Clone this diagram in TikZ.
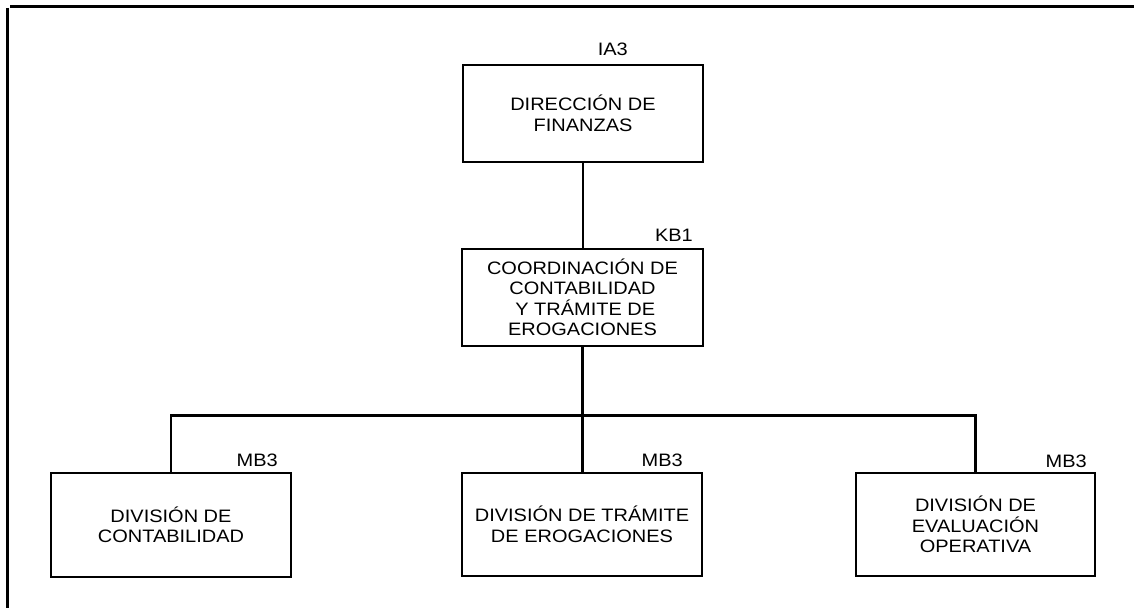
\documentclass[tikz,border=0pt]{standalone}
\usepackage{fontspec}
\setmainfont{Liberation Sans}[FakeStretch=1.11]
\begin{document}
\begin{tikzpicture}[x=1bp,y=-1bp,
  unit/.style={draw=black,line width=2.4bp,align=center,inner sep=0pt,
    font=\fontsize{18bp}{20.5bp}\selectfont},
  code/.style={inner sep=0pt,anchor=base east,font=\fontsize{18bp}{20.5bp}\selectfont},
  link/.style={line width=2.2bp},
  frame/.style={line width=3.2bp}]
\useasboundingbox (0,0) rectangle (1134,608);
% frame
\coordinate (ftl) at (10,6.3);
\coordinate (ftr) at (1134,6.3);
\coordinate (flt) at (7.3,8);
\coordinate (flb) at (7.3,608);
\draw[frame] (ftl) -- (ftr);
\draw[frame] (flt) -- (flb);
% boxes
\node[unit,minimum width=240bp,minimum height=97bp] (A) at (583,113.5) {DIRECCIÓN DE\\FINANZAS};
\node[unit,minimum width=241bp,minimum height=97bp] (B) at (582.5,297.5)
  {COORDINACIÓN DE\hspace{5.5bp}\\CONTABILIDAD\\\hspace{5.5bp}Y TRÁMITE DE\\EROGACIONES};
\node[unit,minimum width=240bp,minimum height=104bp] (C1) at (171,525) {DIVISIÓN DE\\CONTABILIDAD};
\node[unit,minimum width=240bp,minimum height=103bp] (C2) at (582,524.5) {DIVISIÓN DE TRÁMITE\\DE EROGACIONES};
\node[unit,minimum width=239bp,minimum height=103bp] (C3) at (975.5,524.5) {DIVISIÓN DE\\EVALUACIÓN\\OPERATIVA};
% codes
\node[code] (lA) at (628,56) {IA3};
\node[code] (lB) at (693,242) {KB1};
\node[code] (l1) at (278,466) {MB3};
\node[code] (l2) at (683,466) {MB3};
\node[code] (l3) at (1087,467) {MB3};
% connectors
\coordinate (bus) at (582,415.5);
\draw[link] (A.south) -- (A.south |- B.north);
\draw[link] (B.south) -- (B.south |- C2.north);
\draw[link] (C1.north) |- (bus) -| (C3.north);
\end{tikzpicture}
\end{document}
